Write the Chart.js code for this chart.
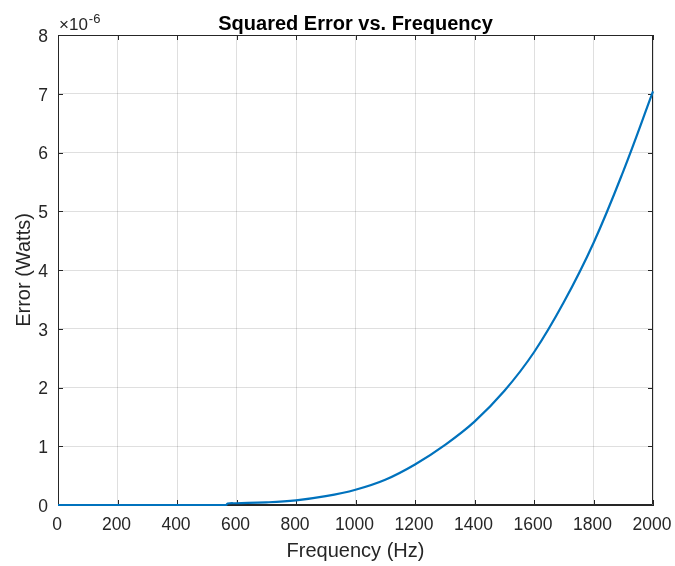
<!DOCTYPE html>
<html>
<head>
<meta charset="utf-8">
<script src="https://cdn.jsdelivr.net/npm/chart.js@4.4.1/dist/chart.umd.min.js"></script>
<style>
  html, body { margin: 0; padding: 0; background: #ffffff; }
  #wrap { width: 675px; height: 566px; position: relative; }
</style>
</head>
<body>
<div id="wrap"><canvas id="c" width="675" height="566"></canvas></div>
<script>
// Frequency samples (Hz)
const freqHz = [0, 100, 200, 300, 400, 500, 565, 570, 600, 700, 800, 900, 1000, 1100, 1200, 1300, 1400, 1500, 1600, 1700, 1800, 1900, 2000];
// Squared error, in units of 1e-6 W
const errorE6 = [0, 0, 0, 0, 0, 0, 0, 0.025, 0.03, 0.045, 0.08, 0.15, 0.26, 0.43, 0.69, 1.02, 1.42, 1.94, 2.60, 3.45, 4.46, 5.68, 7.04];
// Tick values
const xTicks = [0, 200, 400, 600, 800, 1000, 1200, 1400, 1600, 1800, 2000];
const yTicks = [0, 1, 2, 3, 4, 5, 6, 7, 8];
const titleText = 'Squared Error vs. Frequency';
const exponentLabel = ['\u00D710', '-6'];

const AXIS_COLOR = '#262626';
const GRID_COLOR = 'rgba(38,38,38,0.15)';
const LINE_COLOR = '#0072BD';
const FONT = 'Arial, "Liberation Sans", Helvetica, sans-serif';

const boxPlugin = {
  id: 'matlabBox',
  beforeDatasetsDraw(chart) {
    const { ctx, chartArea: a, scales } = chart;
    const tl = 5;
    ctx.save();
    ctx.strokeStyle = AXIS_COLOR;
    ctx.lineWidth = 1;
    ctx.beginPath();
    ctx.rect(Math.round(a.left) + 0.5, Math.round(a.top) + 0.5, Math.round(a.right - a.left) - 1, Math.round(a.bottom - a.top) - 1);
    ctx.stroke();
    ctx.beginPath();
    xTicks.forEach(v => {
      const x = Math.round(scales.x.getPixelForValue(v)) + 0.5;
      ctx.moveTo(x, a.bottom); ctx.lineTo(x, a.bottom - tl);
      ctx.moveTo(x, a.top); ctx.lineTo(x, a.top + tl);
    });
    yTicks.forEach(v => {
      const y = Math.round(scales.y.getPixelForValue(v)) + 0.5;
      ctx.moveTo(a.left, y); ctx.lineTo(a.left + tl, y);
      ctx.moveTo(a.right, y); ctx.lineTo(a.right - tl, y);
    });
    ctx.stroke();
    // exponent label
    ctx.fillStyle = AXIS_COLOR;
    ctx.textBaseline = 'alphabetic';
    ctx.textAlign = 'left';
    ctx.font = '17px ' + FONT;
    const x0 = a.left + 1;
    ctx.fillText(exponentLabel[0], x0, a.top - 5);
    const w = ctx.measureText(exponentLabel[0]).width;
    ctx.font = '13px ' + FONT;
    ctx.fillText(exponentLabel[1], x0 + w + 1, a.top - 12);
    // title centred over the plot area
    ctx.fillStyle = '#000000';
    ctx.textAlign = 'center';
    ctx.font = 'bold 20px ' + FONT;
    ctx.fillText(titleText, (a.left + a.right) / 2, a.top - 5);
    ctx.restore();
  }
};

new Chart(document.getElementById('c'), {
  type: 'line',
  data: {
    datasets: [{
      data: freqHz.map((f, i) => ({ x: f, y: errorE6[i] })),
      borderColor: LINE_COLOR,
      borderWidth: 2.2,
      pointRadius: 0,
      fill: false,
      tension: 0.4,
      clip: false
    }]
  },
  options: {
    responsive: false,
    animation: false,
    layout: { padding: { left: 0, right: 22, top: 35, bottom: 0 } },
    plugins: {
      legend: { display: false },
      tooltip: { enabled: false },
      title: { display: false }
    },
    scales: {
      x: {
        type: 'linear',
        min: 0, max: 2000,
        afterBuildTicks(scale) { scale.ticks = xTicks.map(v => ({ value: v })); },
        afterFit(scale) { scale.height = 61; scale.paddingLeft = 0; scale.paddingRight = 0; },
        grid: { color: GRID_COLOR, drawTicks: false },
        border: { display: true, color: AXIS_COLOR },
        ticks: { color: AXIS_COLOR, font: { family: FONT, size: 17.5 }, padding: 10, maxRotation: 0, labelOffset: -1, callback: v => String(v) },
        title: { display: true, text: 'Frequency (Hz)', color: AXIS_COLOR, font: { family: FONT, size: 20 }, padding: { top: 0, bottom: 3 } }
      },
      y: {
        type: 'linear',
        min: 0, max: 8,
        afterBuildTicks(scale) { scale.ticks = yTicks.map(v => ({ value: v })); },
        afterFit(scale) { scale.width = 58; scale.paddingTop = 0; scale.paddingBottom = 0; },
        grid: { color: GRID_COLOR, drawTicks: false },
        border: { display: true, color: AXIS_COLOR },
        ticks: { color: AXIS_COLOR, font: { family: FONT, size: 17.5 }, padding: 10, labelOffset: 2, callback: v => String(v) },
        title: { display: true, text: 'Error (Watts)', color: AXIS_COLOR, font: { family: FONT, size: 20 }, padding: { top: 12, bottom: 0 } }
      }
    }
  },
  plugins: [boxPlugin]
});
</script>
</body>
</html>
